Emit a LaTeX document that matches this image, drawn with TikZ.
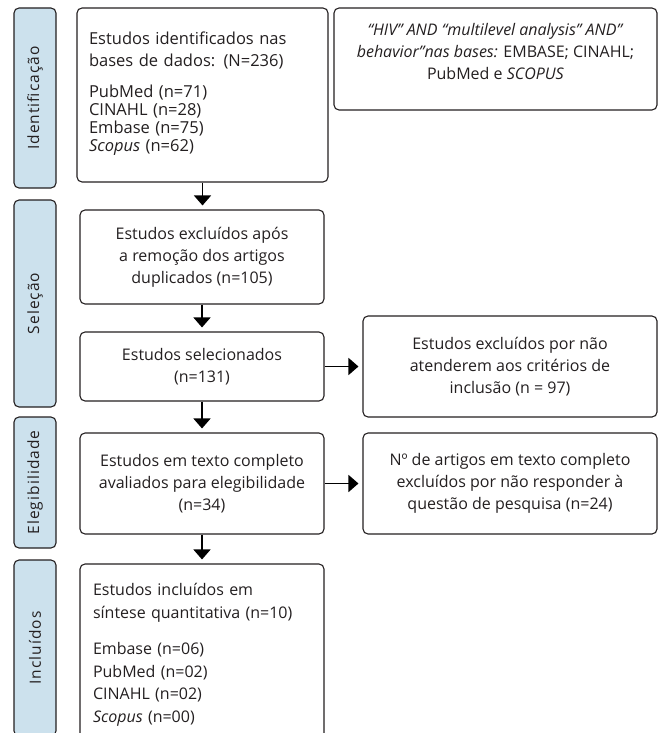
\documentclass[tikz,border=0pt]{standalone}
\usepackage{fontspec}
\setmainfont{Open Sans}
\newfontfamily\labfont[LetterSpace=7]{Open Sans}
\usetikzlibrary{arrows.meta}
\definecolor{labblue}{HTML}{CCE1ED}
\definecolor{edgecol}{HTML}{231F20}
\begin{document}
\begin{tikzpicture}[x=1pt,y=-1pt,
  lab/.style={draw=edgecol,fill=labblue,rounded corners=5pt,line width=1.1pt,
    minimum height=42pt,inner sep=0pt,rotate=90,font=\labfont\fontsize{15.5}{16}\selectfont,text=edgecol},
  box/.style={draw=edgecol,rounded corners=5pt,line width=1.1pt,inner sep=0pt,text=edgecol},
  cbox/.style={box,align=center,font=\fontsize{16}{22}\selectfont},
  arr/.style={line width=1.6pt,draw=black,-{Triangle[length=10pt,width=17pt]},shorten >=4pt}]
\useasboundingbox (0,0) rectangle (662,733);
\clip (0,0) rectangle (662,733);
% side labels
\node[lab,minimum width=180pt] (L1) at (35,98) {Identificação};
\node[lab,minimum width=207pt] (L2) at (35,303.5) {Seleção};
\node[lab,minimum width=131pt] (L3) at (35,482.5) {Elegibilidade};
\node[lab,minimum width=176pt] (L4) at (35,648) {Incluídos};
% main column
\node[box,minimum width=251pt,minimum height=174pt,text width=227pt,align=left,
  font=\fontsize{16.5}{18}\selectfont] (B1) at (202.5,95)
  {Estudos identificados nas\\[4pt]bases de dados: (N=236)\\[13pt]PubMed (n=71)\\CINAHL (n=28)\\Embase (n=75)\\\textit{Scopus} (n=62)\\[-12pt]\mbox{}};
\node[box,minimum width=323pt,minimum height=102pt,align=center,
  font=\fontsize{16}{22}\selectfont] (TR) at (495.5,59)
  {\textit{“HIV” AND “multilevel analysis” AND”}\\\textit{behavior”nas bases:} EMBASE; CINAHL;\\PubMed e \textit{SCOPUS}\\[-6pt]\mbox{}};
\node[cbox,minimum width=244pt,minimum height=94pt] (B2) at (202,257)
  {Estudos excluídos após\\a remoção dos artigos\\duplicados (n=105)};
\node[cbox,minimum width=244pt,minimum height=69pt] (B3) at (202,366.5)
  {Estudos selecionados\\(n=131)};
\node[cbox,minimum width=294pt,minimum height=101pt] (R2) at (510,366.5)
  {Estudos excluídos por não\\atenderem aos critérios de\\inclusão (n = 97)};
\node[cbox,minimum width=244pt,minimum height=101pt] (B4) at (202,483.5)
  {Estudos em texto completo\\avaliados para elegibilidade\\(n=34)};
\node[cbox,minimum width=294pt,minimum height=101pt] (R3) at (510,483.5)
  {Nº de artigos em texto completo\\excluídos por não responder à\\questão de pesquisa (n=24)};
\node[box,minimum width=244pt,minimum height=182pt,text width=218pt,align=left,
  font=\fontsize{16}{22.5}\selectfont] (B5) at (202,655)
  {Estudos incluídos em\\síntese quantitativa (n=10)\\[14pt]Embase (n=06)\\PubMed (n=02)\\CINAHL (n=02)\\\textit{Scopus} (n=00)};
% connectors
\draw[arr] (B1.south) -- (B1.south |- B2.north);
\draw[arr] (B2.south) -- (B3.north);
\draw[arr] (B3.south) -- (B4.north);
\draw[arr] (B4.south) -- (B5.north);
\draw[arr] (B3.east) -- (R2.west);
\draw[arr] (B4.east) -- (R3.west);
\end{tikzpicture}
\end{document}
